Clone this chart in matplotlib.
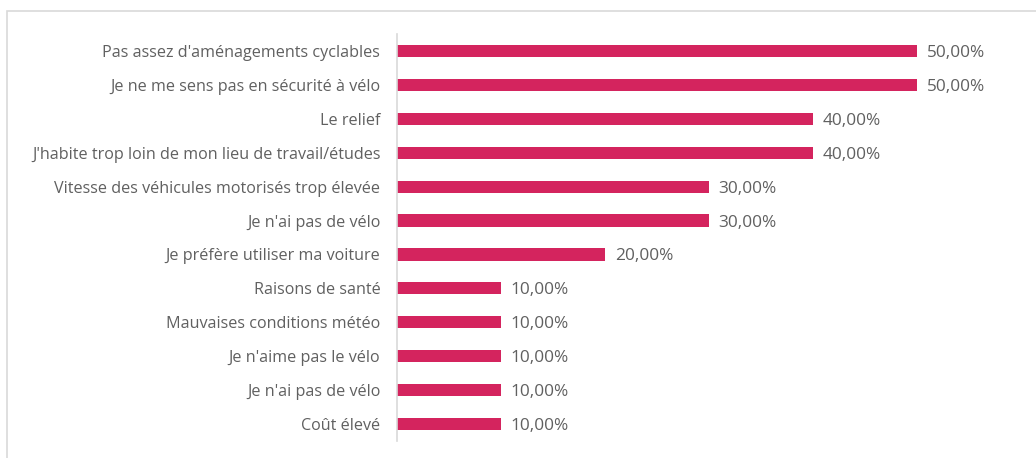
import matplotlib
matplotlib.use("Agg")
import matplotlib.pyplot as plt
from matplotlib.patches import Rectangle

categories = [
    "Pas assez d'aménagements cyclables",
    "Je ne me sens pas en sécurité à vélo",
    "Le relief",
    "J'habite trop loin de mon lieu de travail/études",
    "Vitesse des véhicules motorisés trop élevée",
    "Je n'ai pas de vélo",
    "Je préfère utiliser ma voiture",
    "Raisons de santé",
    "Mauvaises conditions météo",
    "Je n'aime pas le vélo",
    "Je n'ai pas de vélo",
    "Coût élevé",
]
values = [0.50, 0.50, 0.40, 0.40, 0.30, 0.30, 0.20, 0.10, 0.10, 0.10, 0.10, 0.10]

W, H = 1036, 458
fig = plt.figure(figsize=(W / 100, H / 100), dpi=100)
plt.rcParams['font.family'] = ['Open Sans', 'DejaVu Sans']

# outer light border
fig.patches.append(Rectangle((7 / W, -0.05), 1.1, 1 - 11 / H + 0.05, transform=fig.transFigure,
                             fill=False, edgecolor='#d9d9d9', linewidth=1.2))

ax = fig.add_axes([397 / W, 1 - 441 / H, 624 / W, (441 - 34) / H])
ypos = list(range(len(categories)))
ax.barh(ypos, values, height=0.36, color='#D4245E')
ax.set_ylim(len(categories) - 0.5, -0.5)
ax.set_xlim(0, 0.6)
ax.set_yticks(ypos)
ax.set_yticklabels(categories, fontsize=11.6, color='#606060')
ax.tick_params(axis='y', length=0, pad=12)
ax.set_xticks([])
for s in ['top', 'right', 'bottom']:
    ax.spines[s].set_visible(False)
ax.spines['left'].set_color('#d9d9d9')
ax.spines['left'].set_linewidth(1.2)

for y, v in zip(ypos, values):
    ax.annotate(f"{v*100:.2f}%".replace('.', ','), (v, y), xytext=(7, 0),
                textcoords='offset points', va='center_baseline', ha='left',
                fontsize=12.4, color='#606060')

fig.savefig('out.png', dpi=100)
